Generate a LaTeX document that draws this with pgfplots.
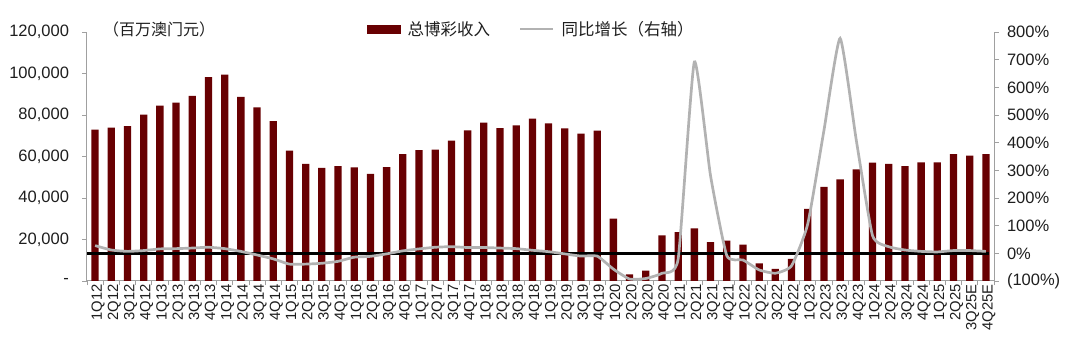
\documentclass[border=0pt]{standalone}
\usepackage{fontspec}
\setmainfont{Liberation Sans}
\newfontfamily\cjk{Noto Sans CJK SC}
\usepackage{pgfplots}
\usepackage{pgfplotstable}
\pgfplotsset{compat=1.18}
\definecolor{barred}{RGB}{104,0,2}
\definecolor{linegray}{RGB}{178,178,178}
\definecolor{axgray}{RGB}{160,160,160}
\definecolor{txt}{RGB}{30,30,30}

\pgfplotstableread{
x ggr yoy
0 73000 28
1 73900 12
2 74600 7
3 80200 10
4 84500 16
5 86000 17
6 89200 19
7 98200 22
8 99500 17
9 88700 7
10 83700 -6
11 77000 -20
12 62800 -39
13 56400 -39
14 54500 -36
15 55400 -29
16 54800 -14
17 51600 -11
18 54900 -2
19 61200 9
20 63100 16
21 63300 22
22 67700 24
23 72600 21
24 76300 21
25 73700 19
26 75000 17
27 78300 11
28 75900 6
29 73600 -2
30 71000 -10
31 72500 -10
32 30100 -57
33 3200 -93
34 5000 -91
35 22000 -72
36 23600 -20
37 25400 692
38 18700 280
39 19500 -8
40 17500 -24
41 8500 -60
42 5800 -72
43 10600 -45
44 34700 106
45 45300 444
46 49000 777
47 53800 408
48 57000 64
49 56400 24
50 55300 12
51 57200 7
52 57200 5
53 61100 10
54 60400 10
55 61200 7
}\data

\begin{document}
\begin{tikzpicture}
\begin{axis}[
  at={(87pt,71pt)}, anchor=south west, scale only axis,
  width=907pt, height=249pt,
  xmin=-0.5, xmax=55.5, ymin=0, ymax=120000,
  scaled y ticks=false,
  axis y line*=left, axis x line*=bottom,
  axis line style={axgray, line width=1pt},
  tick style={axgray, line width=0.9pt},
  tick align=outside, major tick length=4.5pt,
  ytick={0,20000,40000,60000,80000,100000,120000},
  yticklabels={-,{20,000},{40,000},{60,000},{80,000},{100,000},{120,000}},
  y tick label style={font=\fontsize{16.5}{19}\selectfont, text=txt, xshift=-10pt},
  xtick={-0.5,0.5,...,55.5},
  xticklabel={\phantom{0}},
  extra x ticks={0,1,...,55},
  extra x tick labels={1Q12,2Q12,3Q12,4Q12,1Q13,2Q13,3Q13,4Q13,1Q14,2Q14,3Q14,4Q14,1Q15,2Q15,3Q15,4Q15,1Q16,2Q16,3Q16,4Q16,1Q17,2Q17,3Q17,4Q17,1Q18,2Q18,3Q18,4Q18,1Q19,2Q19,3Q19,4Q19,1Q20,2Q20,3Q20,4Q20,1Q21,2Q21,3Q21,4Q21,1Q22,2Q22,3Q22,4Q22,1Q23,2Q23,3Q23,4Q23,1Q24,2Q24,3Q24,4Q24,1Q25,2Q25,3Q25E,4Q25E},
  extra x tick style={major tick length=0pt,
    tick label style={rotate=90, anchor=east, font=\fontsize{14.8}{17}\selectfont, text=txt, yshift=-3pt}},
  ybar, bar width=7.3pt,
  clip=false,
]
\addplot[fill=barred, draw=none] table[x=x,y=ggr]{\data};
\end{axis}
\begin{axis}[
  at={(87pt,71pt)}, anchor=south west, scale only axis,
  width=907pt, height=249pt,
  xmin=-0.5, xmax=55.5, ymin=-100, ymax=800,
  axis y line*=right, axis x line=none,
  axis line style={axgray, line width=1pt},
  tick style={axgray, line width=0.9pt},
  tick align=outside, major tick length=4.5pt,
  ytick={-100,0,100,200,300,400,500,600,700,800},
  yticklabels={(100\%),0\%,100\%,200\%,300\%,400\%,500\%,600\%,700\%,800\%},
  y tick label style={font=\fontsize{16.5}{19}\selectfont, text=txt, xshift=5pt},
  clip=false,
  legend columns=2,
  legend style={at={(rel axis cs:0.49,1.012)}, anchor=center, draw=none, fill=none,
    font=\cjk\fontsize{16.5}{19}\selectfont, text=txt,
    /tikz/every odd column/.append style={column sep=5pt},
    /tikz/every even column/.append style={column sep=27pt}},
]
\addlegendimage{legend image code/.code={\fill[barred] (0pt,-4pt) rectangle (33pt,4pt);}}
\addlegendentry{总博彩收入}
\addplot[black, line width=2.5pt, forget plot] coordinates {(-0.5,0) (55.2,0)};
\addplot[linegray, line width=2.7pt, smooth, tension=0.3,
  legend image code/.code={\draw[linegray, line width=2.7pt] (0pt,0pt) -- (33pt,0pt);}]
  table[x=x,y=yoy]{\data};
\addlegendentry{同比增长（右轴）}
\node[font=\cjk\fontsize{16}{19}\selectfont, text=txt] at (rel axis cs:0.0794,1.012) {（百万澳门元）};
\end{axis}
\pgfresetboundingbox
\useasboundingbox (0,0) rectangle (1080pt,352pt);
\end{tikzpicture}
\end{document}
